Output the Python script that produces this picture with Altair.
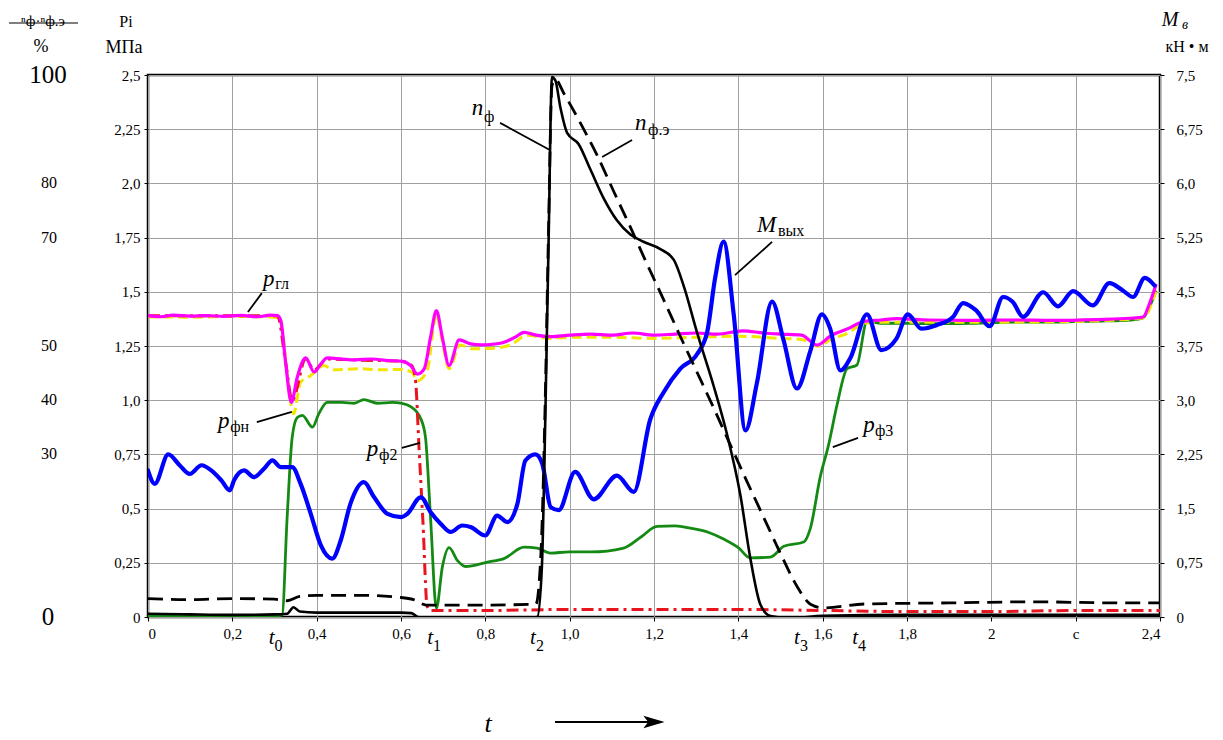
import json
import altair as alt
import pandas as pd

# ---------------- data (time t in s, values on the left MPa scale) ----------------
p_gl_t = [0, 0.03, 0.06, 0.1, 0.14, 0.18, 0.22, 0.26, 0.29, 0.307, 0.315, 0.326, 0.34, 0.354, 0.374, 0.394,
          0.41, 0.425, 0.46, 0.49, 0.53, 0.57, 0.60, 0.623, 0.639, 0.655, 0.67, 0.684, 0.698, 0.714, 0.738,
          0.765, 0.79, 0.813, 0.844, 0.87, 0.892, 0.92, 0.955, 1.0, 1.05, 1.1, 1.15, 1.2, 1.25, 1.3, 1.35,
          1.41, 1.46, 1.5, 1.55, 1.587, 1.618, 1.66, 1.697, 1.74, 1.776, 1.85, 1.95, 2.05, 2.15, 2.25, 2.33,
          2.36, 2.375, 2.39]
p_gl_v = [1.39, 1.385, 1.392, 1.388, 1.39, 1.387, 1.391, 1.385, 1.392, 1.39, 1.367, 1.18, 0.99, 1.106, 1.195,
          1.13, 1.167, 1.195, 1.19, 1.186, 1.19, 1.183, 1.18, 1.16, 1.12, 1.144, 1.29, 1.413, 1.29, 1.16,
          1.278, 1.26, 1.255, 1.257, 1.267, 1.29, 1.313, 1.30, 1.293, 1.30, 1.305, 1.30, 1.31, 1.30, 1.305,
          1.31, 1.305, 1.32, 1.31, 1.305, 1.30, 1.254, 1.296, 1.33, 1.363, 1.37, 1.376, 1.37, 1.368, 1.37,
          1.368, 1.372, 1.378, 1.384, 1.445, 1.53]

p_fn_t = [0, 0.1, 0.2, 0.29, 0.31, 0.32, 0.33, 0.345, 0.362, 0.386, 0.417, 0.44, 0.5, 0.55, 0.6, 0.625,
          0.639, 0.662, 0.684, 0.698, 0.714, 0.74, 0.77, 0.82, 0.86, 0.9, 0.95, 1.0, 1.1, 1.2, 1.3, 1.4,
          1.5, 1.55, 1.59, 1.62, 1.66, 1.70, 1.75, 1.85, 2.0, 2.15, 2.3, 2.36, 2.39]
p_fn_v = [1.385, 1.383, 1.386, 1.384, 1.38, 1.30, 1.12, 0.937, 1.083, 1.114, 1.16, 1.14, 1.145, 1.14,
          1.142, 1.13, 1.09, 1.137, 1.395, 1.27, 1.145, 1.255, 1.237, 1.24, 1.255, 1.30, 1.285, 1.29, 1.29,
          1.285, 1.29, 1.295, 1.285, 1.28, 1.25, 1.28, 1.31, 1.355, 1.36, 1.36, 1.36, 1.362, 1.37, 1.38, 1.5]

p_f2_t = [0, 0.1, 0.2, 0.307, 0.326, 0.342, 0.374, 0.394, 0.425, 0.5, 0.6, 0.625, 0.634, 0.643, 0.652,
          0.662, 0.67, 0.8, 1.0, 1.2, 1.4, 1.6, 1.8, 2.0, 2.2, 2.4]
p_f2_v = [1.39, 1.39, 1.39, 1.39, 1.18, 1.0, 1.19, 1.14, 1.19, 1.185, 1.18, 1.16, 1.10, 0.77, 0.44, 0.05,
          0.03, 0.03, 0.035, 0.035, 0.035, 0.03, 0.025, 0.025, 0.03, 0.03]

p_f3_t = [0, 0.1, 0.2, 0.3, 0.318, 0.33, 0.342, 0.354, 0.366, 0.39, 0.405, 0.425, 0.46, 0.489, 0.512,
          0.544, 0.58, 0.60, 0.623, 0.647, 0.658, 0.67, 0.684, 0.698, 0.714, 0.734, 0.753, 0.805, 0.844,
          0.892, 0.923, 0.954, 1.0, 1.05, 1.128, 1.17, 1.207, 1.25, 1.286, 1.33, 1.365, 1.4, 1.428, 1.476,
          1.508, 1.555, 1.571, 1.594, 1.614, 1.634, 1.658, 1.681, 1.705, 1.74, 1.776, 1.85, 1.95, 2.05,
          2.15, 2.25, 2.33, 2.36, 2.375, 2.39]
p_f3_v = [0.005, 0.005, 0.005, 0.005, 0.01, 0.46, 0.83, 0.92, 0.93, 0.876, 0.937, 0.99, 0.99, 0.986,
          1.003, 0.986, 0.99, 0.986, 0.97, 0.914, 0.83, 0.46, 0.04, 0.23, 0.32, 0.26, 0.233, 0.253, 0.269,
          0.322, 0.318, 0.295, 0.30, 0.30, 0.318, 0.37, 0.418, 0.42, 0.41, 0.39, 0.36, 0.32, 0.273, 0.276,
          0.326, 0.346, 0.41, 0.644, 0.794, 0.978, 1.146, 1.162, 1.363, 1.355, 1.355, 1.353, 1.355, 1.36,
          1.36, 1.365, 1.37, 1.38, 1.43, 1.5]

m_out_t = [0.0, 0.016, 0.048, 0.075, 0.099, 0.127, 0.15, 0.174, 0.194, 0.204, 0.228, 0.251, 0.275, 0.295,
           0.315, 0.342, 0.362, 0.386, 0.41, 0.437, 0.457, 0.48, 0.512, 0.536, 0.568, 0.60, 0.615, 0.647,
           0.67, 0.694, 0.718, 0.745, 0.765, 0.80, 0.828, 0.852, 0.876, 0.895, 0.919, 0.935, 0.955, 0.974,
           1.013, 1.057, 1.112, 1.152, 1.191, 1.223, 1.262, 1.302, 1.326, 1.345, 1.365, 1.389, 1.417,
           1.444, 1.48, 1.507, 1.539, 1.571, 1.598, 1.618, 1.642, 1.666, 1.705, 1.739, 1.775, 1.802,
           1.834, 1.87, 1.909, 1.933, 1.964, 1.996, 2.028, 2.051, 2.075, 2.123, 2.158, 2.194, 2.241, 2.28,
           2.312, 2.336, 2.364, 2.387]
m_out_v = [0.676, 0.614, 0.75, 0.70, 0.66, 0.70, 0.676, 0.63, 0.584, 0.63, 0.676, 0.645, 0.684, 0.722,
           0.691, 0.691, 0.614, 0.476, 0.33, 0.269, 0.353, 0.522, 0.622, 0.553, 0.476, 0.461, 0.476, 0.553,
           0.484, 0.43, 0.392, 0.422, 0.415, 0.376, 0.468, 0.438, 0.522, 0.722, 0.75, 0.707, 0.507, 0.493,
           0.669, 0.543, 0.652, 0.577, 0.911, 1.037, 1.145, 1.212, 1.313, 1.564, 1.731, 1.396, 0.861,
           1.079, 1.455, 1.279, 1.054, 1.229, 1.396, 1.329, 1.137, 1.196, 1.396, 1.231, 1.284, 1.396,
           1.33, 1.346, 1.384, 1.448, 1.414, 1.341, 1.476, 1.453, 1.384, 1.498, 1.433, 1.503, 1.437, 1.54,
           1.506, 1.476, 1.564, 1.529]

n_f_t = [0, 0.1, 0.2, 0.3, 0.33, 0.345, 0.36, 0.4, 0.5, 0.6, 0.625, 0.64, 0.7, 0.8, 0.9, 0.923, 0.934,
         0.942, 0.95, 0.958, 0.966, 0.978, 0.994, 1.021, 1.049, 1.081, 1.112, 1.144, 1.175, 1.215, 1.247,
         1.27, 1.302, 1.342, 1.373, 1.405, 1.428, 1.452, 1.476, 1.52, 1.6, 1.8, 2.0, 2.2, 2.4]
n_f_v = [0.015, 0.012, 0.01, 0.012, 0.015, 0.045, 0.025, 0.02, 0.02, 0.02, 0.018, 0.0, -0.01, -0.01,
         -0.005, 0.0, 0.226, 0.895, 1.73, 2.49, 2.475, 2.35, 2.233, 2.182, 2.065, 1.93, 1.83, 1.764, 1.731,
         1.697, 1.647, 1.53, 1.313, 1.062, 0.844, 0.56, 0.276, 0.059, 0.005, -0.005, 0.005, 0.01, 0.01,
         0.01, 0.01]

n_fe_t = [0, 0.1, 0.2, 0.3, 0.33, 0.36, 0.4, 0.5, 0.6, 0.63, 0.66, 0.8, 0.92, 0.932, 0.942, 0.95, 0.958,
          0.966, 0.986, 1.025, 1.065, 1.104, 1.144, 1.183, 1.223, 1.262, 1.302, 1.342, 1.381, 1.42, 1.46,
          1.5, 1.539, 1.571, 1.602, 1.7, 1.9, 2.1, 2.3, 2.4]
n_fe_v = [0.085, 0.08, 0.085, 0.082, 0.075, 0.095, 0.1, 0.1, 0.09, 0.08, 0.055, 0.055, 0.06, 0.3, 1.0,
          1.8, 2.45, 2.48, 2.416, 2.28, 2.13, 1.965, 1.798, 1.63, 1.463, 1.296, 1.129, 0.962, 0.794,
          0.627, 0.46, 0.293, 0.142, 0.059, 0.042, 0.06, 0.065, 0.07, 0.065, 0.065]

# ticks and labels
x_ticks = [0, 0.2, 0.4, 0.6, 0.8, 1.0, 1.2, 1.4, 1.6, 1.8, 2.0, 2.2, 2.4]
x_tick_labels = ["0", "0,2", "0,4", "0,6", "0,8", "1,0", "1,2", "1,4", "1,6", "1,8", "2", "c", "2,4"]
y_ticks = [0, 0.25, 0.5, 0.75, 1.0, 1.25, 1.5, 1.75, 2.0, 2.25, 2.5]
y_tick_labels = ["0", "0,25", "0,5", "0,75", "1,0", "1,25", "1,5", "1,75", "2,0", "2,25", "2,5"]
y_right_labels = ["0", "0,75", "1,5", "2,25", "3,0", "3,75", "4,5", "5,25", "6,0", "6,75", "7,5"]
pct_big_labels = ["100", "0"]
pct_big_pos = [2.5, 0.0]
pct_small_labels = ["80", "70", "50", "40", "30"]
pct_small_pos = [2.0, 1.75, 1.25, 1.0, 0.75]

# curve annotations: main letter, subscript, positions (data units), leader lines
ann_main = ["p", "p", "p", "n", "n", "M", "p"]
ann_main_t = [0.273, 0.166, 0.519, 0.768, 1.155, 1.444, 1.696]
ann_main_v = [1.559, 0.904, 0.775, 2.348, 2.279, 1.808, 0.886]
ann_sub = ["гл", "фн", "ф2", "ф", "ф.э", "вых", "ф3"]
ann_sub_t = [0.302, 0.195, 0.548, 0.797, 1.186, 1.494, 1.724]
ann_sub_v = [1.536, 0.876, 0.747, 2.306, 2.246, 1.780, 0.858]
lead_t1 = [0.270, 0.258, 0.602, 0.835, 1.148, 1.480, 1.684]
lead_v1 = [1.494, 0.899, 0.780, 2.279, 2.200, 1.730, 0.826]
lead_t2 = [0.237, 0.341, 0.645, 0.953, 1.077, 1.392, 1.624]
lead_v2 = [1.407, 0.946, 0.803, 2.154, 2.122, 1.577, 0.784]

# time markers under the axis
tm_sub = ["0", "1", "2", "3", "4"]
tm_t = [0.300, 0.676, 0.920, 1.546, 1.684]

# ---------------- chart ----------------
W, H = 1012, 542
FONT = "Liberation Serif, Times New Roman, DejaVu Serif, serif"

x_scale = alt.Scale(domain=[0, 2.4], nice=False, zero=False)
y_scale = alt.Scale(domain=[0, 2.5], nice=False, zero=False)
x_axis = alt.Axis(values=x_ticks, labelExpr=json.dumps(x_tick_labels) + "[round(datum.value*5)]",
                  title=None, grid=True, tickSize=4, labelPadding=5, domain=False,
                  labelFont=FONT, labelFontSize=15)
y_axis = alt.Axis(values=y_ticks, labelExpr=json.dumps(y_tick_labels) + "[round(datum.value*4)]",
                  title=None, grid=True, tickSize=4, labelPadding=4, domain=False,
                  labelFont=FONT, labelFontSize=15)


def X(f="t"):
    return alt.X(f + ":Q", scale=x_scale, axis=x_axis)


def Y(f="v"):
    return alt.Y(f + ":Q", scale=y_scale, axis=y_axis)


def series(t, v, color, width, dash=None):
    kw = dict(color=color, strokeWidth=width, clip=True, interpolate="monotone")
    if dash:
        kw["strokeDash"] = dash
    else:
        kw["strokeCap"] = "round"
        kw["strokeJoin"] = "round"
    return alt.Chart(pd.DataFrame({"t": t, "v": v})).mark_line(**kw).encode(x=X(), y=Y())


lines = [
    series(p_f3_t, p_f3_v, "#148a14", 2.8),
    series(p_fn_t, p_fn_v, "#f2e600", 3, [10, 5]),
    series(p_f2_t, p_f2_v, "#e8141e", 3, [12, 5, 3, 5]),
    series(p_gl_t, p_gl_v, "#ff00ff", 3.2),
    series(m_out_t, m_out_v, "#0000ff", 4.2),
    series(n_fe_t, n_fe_v, "black", 2.8, [15, 8]),
    series(n_f_t, n_f_v, "black", 2.6),
]

leaders = alt.Chart(pd.DataFrame({"t": lead_t1, "v": lead_v1, "t2": lead_t2, "v2": lead_v2})).mark_rule(
    color="black", strokeWidth=1.8).encode(x=X(), y=Y(), x2="t2:Q", y2="v2:Q")

ann_main_layer = alt.Chart(pd.DataFrame({"t": ann_main_t, "v": ann_main_v, "s": ann_main})).mark_text(
    font=FONT, fontSize=23, fontStyle="italic", align="left", baseline="middle", color="black"
).encode(x=X(), y=Y(), text="s:N")

ann_sub_layer = alt.Chart(pd.DataFrame({"t": ann_sub_t, "v": ann_sub_v, "s": ann_sub})).mark_text(
    font=FONT, fontSize=16, align="left", baseline="middle", color="black"
).encode(x=X(), y=Y(), text="s:N")

tm_main = alt.Chart(pd.DataFrame({"t": tm_t, "s": ["t"] * len(tm_t)})).mark_text(
    font=FONT, fontSize=21, fontStyle="italic", align="right", baseline="middle", color="black"
).encode(x=X(), y=alt.value(H + 21), text="s:N")

tm_subs = alt.Chart(pd.DataFrame({"t": tm_t, "s": tm_sub})).mark_text(
    font=FONT, fontSize=16, align="left", baseline="middle", color="black"
).encode(x=X(), y=alt.value(H + 29), text="s:N")

pct_big = alt.Chart(pd.DataFrame({"v": pct_big_pos, "s": pct_big_labels})).mark_text(
    font=FONT, fontSize=25, align="center", baseline="middle", color="black"
).encode(x=alt.value(-100), y=Y(), text="s:N")

pct_small = alt.Chart(pd.DataFrame({"v": pct_small_pos, "s": pct_small_labels})).mark_text(
    font=FONT, fontSize=16, align="center", baseline="middle", color="black"
).encode(x=alt.value(-99), y=Y(), text="s:N")

hdr_texts = ["ⁿф·ⁿф.э", "Pi", "%", "МПа", "кН • м"]
hdr_x = [-105, -22, -107, -24, 1039]
hdr_y = [-54, -53, -28, -27, -28]
hdr_size = [15, 16, 18, 18, 16]
header_layers = []
for s, hx, hy, fs in zip(hdr_texts, hdr_x, hdr_y, hdr_size):
    header_layers.append(
        alt.Chart(pd.DataFrame({"s": [s]})).mark_text(
            font=FONT, fontSize=fs, align="center", baseline="middle", color="black"
        ).encode(x=alt.value(hx), y=alt.value(hy), text="s:N"))

m_letter = alt.Chart(pd.DataFrame({"s": ["M"]})).mark_text(
    font=FONT, fontSize=20, fontStyle="italic", align="center", baseline="middle", color="black"
).encode(x=alt.value(1022), y=alt.value(-55), text="s:N")
m_sub = alt.Chart(pd.DataFrame({"s": ["в"]})).mark_text(
    font=FONT, fontSize=14, fontStyle="italic", align="center", baseline="middle", color="black"
).encode(x=alt.value(1037), y=alt.value(-50), text="s:N")

strike = alt.Chart(pd.DataFrame({"s": ["x"]})).mark_rule(color="black", strokeWidth=1.2).encode(
    x=alt.value(-139), x2=alt.value(-70), y=alt.value(-52))

t_label = alt.Chart(pd.DataFrame({"s": ["t"]})).mark_text(
    font=FONT, fontSize=26, fontStyle="italic", align="center", baseline="middle", color="black"
).encode(x=alt.value(340), y=alt.value(649), text="s:N")

arrow_line = alt.Chart(pd.DataFrame({"s": ["a"]})).mark_rule(color="black", strokeWidth=2).encode(
    x=alt.value(407), x2=alt.value(505), y=alt.value(647))
arrow_head = alt.Chart(pd.DataFrame({"s": ["a"]})).mark_point(
    shape="M -1 -0.6 L 1 0 L -1 0.6 L -0.55 0 Z", filled=True, color="black", opacity=1, size=450
).encode(x=alt.value(506), y=alt.value(647))

left = alt.layer(
    *lines, leaders, ann_main_layer, ann_sub_layer, tm_main, tm_subs, pct_big, pct_small,
    *header_layers, m_letter, m_sub, strike, t_label, arrow_line, arrow_head
)

right_axis = alt.Chart(pd.DataFrame({"v": [0, 2.5]})).mark_point(opacity=0).encode(
    y=alt.Y("v:Q", scale=alt.Scale(domain=[0, 2.5], nice=False, zero=False),
            axis=alt.Axis(orient="right", values=y_ticks,
                          labelExpr=json.dumps(y_right_labels) + "[round(datum.value*4)]",
                          grid=False, title=None, tickSize=4, labelPadding=12, domain=False,
                          labelFont=FONT, labelFontSize=15)))

chart = alt.layer(left, right_axis).resolve_scale(y="independent").properties(
    width=W, height=H,
    autosize=alt.AutoSizeParams(type="none"),
    padding={"left": 140, "top": 67, "right": 55, "bottom": 122},
).configure_view(stroke="black", strokeWidth=2.5).configure_axis(
    labelFont=FONT, labelFontSize=15, labelColor="black", tickColor="black",
    gridColor="#a0a0a0", gridWidth=1, gridOpacity=1
)

chart.save("out.html", embed_options={"renderer": "svg", "actions": False})
